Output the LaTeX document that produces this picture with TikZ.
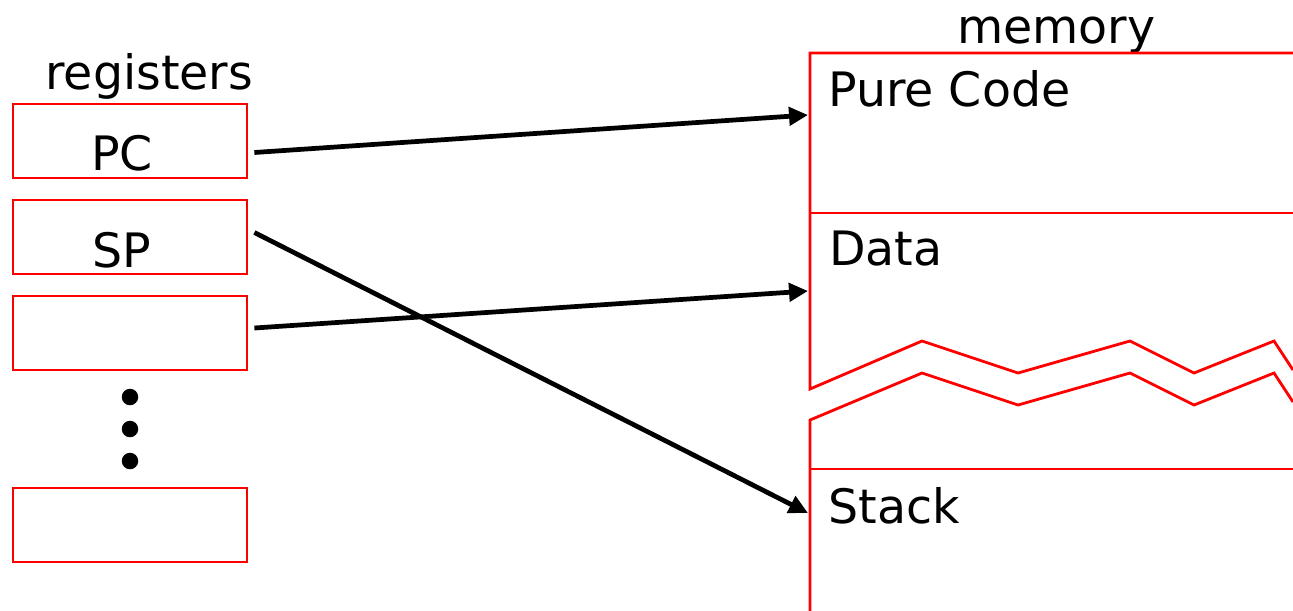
\documentclass[tikz,border=0pt]{standalone}
\usepackage{fontspec}
\setmainfont{DejaVu Sans}
\usetikzlibrary{arrows.meta,positioning}
\tikzset{
  regbox/.style={draw=red, line width=1.6pt, rectangle, minimum width=4.68cm, minimum height=1.48cm, inner sep=0pt},
  lbl/.style={font=\fontsize{27}{32}\selectfont, inner sep=0pt},
  mem/.style={draw=red, line width=1.6pt, line join=miter},
  arr/.style={-{Triangle[length=3.8mm, width=3.6mm]}, line width=2.7pt},
  dot/.style={circle, fill=black, minimum size=3.3mm, inner sep=0pt},
}
\begin{document}
\begin{tikzpicture}[x=0.02cm,y=-0.02cm]
\useasboundingbox (0,0) rectangle (1293,610);
% registers
\node[lbl, anchor=base west] (regtitle) at (45,89) {registers};
\node[regbox] (pc) at (130,141) {};
\node[lbl, anchor=base] (pctxt) at (122,170) {PC};
\node[regbox] (sp) at (130,237) {};
\node[lbl, anchor=base] (sptxt) at (122,267) {SP};
\node[regbox] (r3) at (130,333) {};
\node[dot] (d1) at (130,397) {};
\node[dot] (d2) at (130,429) {};
\node[dot] (d3) at (130,461) {};
\node[regbox] (rn) at (130,525) {};
% memory
\node[lbl, anchor=base west] (memtitle) at (957,43) {memory};
\draw[mem] (1293,53) -- (810,53) -- (810,389) -- (922,341) -- (1018,373) -- (1130,341) -- (1194,373) -- (1274,341) -- (1293,370);
\draw[mem] (810,213) -- (1293,213);
\draw[mem] (1293,402) -- (1274,373) -- (1194,405) -- (1130,373) -- (1018,405) -- (922,373) -- (810,420) -- (810,612);
\draw[mem] (810,469) -- (1293,469);
\node[lbl, anchor=base west] (code) at (828,106) {Pure Code};
\node[lbl, anchor=base west] (data) at (829,265) {Data};
\node[lbl, anchor=base west] (stack) at (828,523) {Stack};
\coordinate (codein) at (808,115);
\coordinate (datain) at (808,291);
\coordinate (stackin) at (808,513);
% pointers
\draw[arr] ([xshift=1.2mm, yshift=-2.3mm]pc.east) -- (codein);
\draw[arr] ([xshift=1.2mm, yshift=0.9mm]sp.east) -- (stackin);
\draw[arr] ([xshift=1.2mm, yshift=1mm]r3.east) -- (datain);
\end{tikzpicture}
\end{document}
